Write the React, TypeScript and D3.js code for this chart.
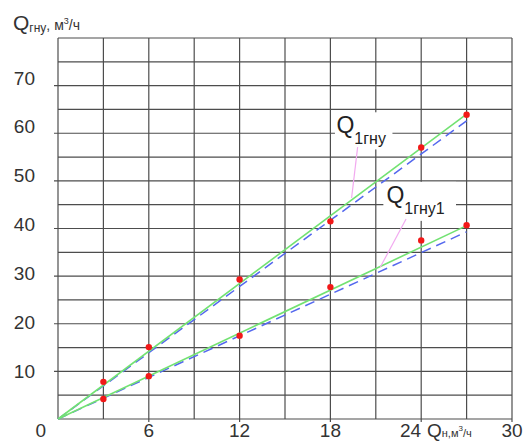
import React, { useEffect, useRef } from 'react';
import * as d3 from 'd3';

// measured flow points, Qн (m3/h) vs Qгну
const qn = [3, 6, 12, 18, 24, 27];
const qGnu = [7.8, 15.1, 29.3, 41.5, 57.0, 63.9];
const qGnu1 = [4.2, 9.0, 17.5, 27.7, 37.5, 40.7];

// approximating lines (green solid) and calculated lines (blue dashed)
const fitGnu = [[0, 0], [27, 64]];
const fitGnu1 = [[0, 0], [27, 40.6]];
const calcGnu = [[0, 0], [27, 62.6]];
const calcGnu1 = [[0, 0], [27, 39.3]];

const xTicks = [0, 6, 12, 18, 24, 30];
const yTicks = [10, 20, 30, 40, 50, 60, 70];

// curve labels: text anchor and leader line in data units
const curveLabels = [
  { main: 'Q', sub: '1гну', x: 18.4, y: 60.1, box: [18.3, 64.4, 22.1, 56.6], lead: [[19.8, 57.1], [19.4, 46.4]] },
  { main: 'Q', sub: '1гну1', x: 21.7, y: 45.3, box: [21.5, 49.8, 26.3, 41.6], lead: [[23.0, 42.0], [21.3, 31.9]] },
];

function App() {
  const svgRef = useRef<SVGSVGElement>(null);

  useEffect(() => {
    const width = 529, height = 446;
    const svg = d3.select(svgRef.current);
    svg.selectAll('*').remove();
    svg.attr('width', width).attr('height', height);

    const font = '"Liberation Sans", Arial, sans-serif';
    const x = d3.scaleLinear().domain([0, 30]).range([58, 512]);
    const y = d3.scaleLinear().domain([0, 80]).range([419, 38]);
    // tick labels drift a little from the grid in the original
    const yLab = d3.scaleLinear().domain([10, 70]).range([371, 78]);

    const grid = svg.append('g').attr('stroke', '#4d4d4d').attr('stroke-width', 1.2);
    d3.range(0, 31, 3).forEach(v => {
      grid.append('line')
        .attr('x1', x(v)).attr('x2', x(v))
        .attr('y1', y(80)).attr('y2', y(0) + (v % 6 === 0 && v > 0 ? 3 : 0));
    });
    d3.range(0, 81, 5).forEach(v => {
      grid.append('line')
        .attr('x1', x(0) - (v % 10 === 0 && v > 0 && v < 80 ? 4 : 0)).attr('x2', x(30))
        .attr('y1', y(v)).attr('y2', y(v));
    });

    // white boxes behind curve labels
    curveLabels.forEach(l => {
      svg.append('rect')
        .attr('x', x(l.box[0])).attr('y', y(l.box[1]))
        .attr('width', x(l.box[2]) - x(l.box[0]))
        .attr('height', y(l.box[3]) - y(l.box[1]))
        .attr('fill', '#fff');
    });

    const line = d3.line<number[]>().x(d => x(d[0])).y(d => y(d[1]));

    [calcGnu, calcGnu1].forEach(d => {
      svg.append('path').attr('d', line(d)).attr('fill', 'none')
        .attr('stroke', '#5468ee').attr('stroke-width', 1.5)
        .attr('stroke-dasharray', '10,6');
    });
    [fitGnu, fitGnu1].forEach(d => {
      svg.append('path').attr('d', line(d)).attr('fill', 'none')
        .attr('stroke', '#72e272').attr('stroke-width', 1.6);
    });

    [qGnu, qGnu1].forEach(series => {
      svg.selectAll(null)
        .data(series)
        .enter()
        .append('circle')
        .attr('cx', (d, i) => x(qn[i]))
        .attr('cy', d => y(d))
        .attr('r', 3.2)
        .attr('fill', '#f21818');
    });

    // leaders and labels
    curveLabels.forEach(l => {
      svg.append('path').attr('d', line(l.lead)).attr('fill', 'none')
        .attr('stroke', '#f2aaf0').attr('stroke-width', 1.2);
      const t = svg.append('text')
        .attr('x', x(l.x)).attr('y', y(l.y))
        .style('font-family', font).attr('fill', '#222');
      t.append('tspan').attr('font-size', 23).text(l.main);
      t.append('tspan').attr('font-size', 16).attr('dy', 11).text(l.sub);
    });

    // y tick labels
    svg.selectAll('.ylab')
      .data(yTicks)
      .enter()
      .append('text')
      .attr('x', 35)
      .attr('y', d => yLab(d))
      .attr('dy', '0.35em')
      .attr('text-anchor', 'end')
      .attr('font-size', 19)
      .style('font-family', font)
      .attr('fill', '#333')
      .text(d => d);

    // x tick labels
    svg.selectAll('.xlab')
      .data(xTicks)
      .enter()
      .append('text')
      .attr('x', d => d === 0 ? x(0) - 12 : d === 24 ? x(24) : x(d))
      .attr('y', 437)
      .attr('text-anchor', d => d === 0 || d === 24 ? 'end' : 'middle')
      .attr('font-size', 19)
      .style('font-family', font)
      .attr('fill', '#333')
      .text(d => d);

    // axis titles
    const yt = svg.append('text').attr('x', 13).attr('y', 30)
      .style('font-family', font).attr('fill', '#333');
    yt.append('tspan').attr('font-size', 21).text('Q');
    yt.append('tspan').attr('font-size', 12).attr('dy', 2).text('гну');
    yt.append('tspan').attr('font-size', 14).attr('dy', -2).text(', м');
    yt.append('tspan').attr('font-size', 9).attr('dy', -6).text('3');
    yt.append('tspan').attr('font-size', 14).attr('dy', 6).text('/ч');

    const xt = svg.append('text').attr('x', 427).attr('y', 437)
      .style('font-family', font).attr('fill', '#333');
    xt.append('tspan').attr('font-size', 19).text('Q');
    xt.append('tspan').attr('font-size', 11).text('н,м');
    xt.append('tspan').attr('font-size', 8).attr('dy', -6).text('3');
    xt.append('tspan').attr('font-size', 11).attr('dy', 6).text('/ч');
  }, []);

  return (
    <div style={{ position: 'absolute', left: 0, top: 0, background: '#fff' }}>
      <svg ref={svgRef} style={{ display: 'block' }}></svg>
    </div>
  );
}

export default App;
